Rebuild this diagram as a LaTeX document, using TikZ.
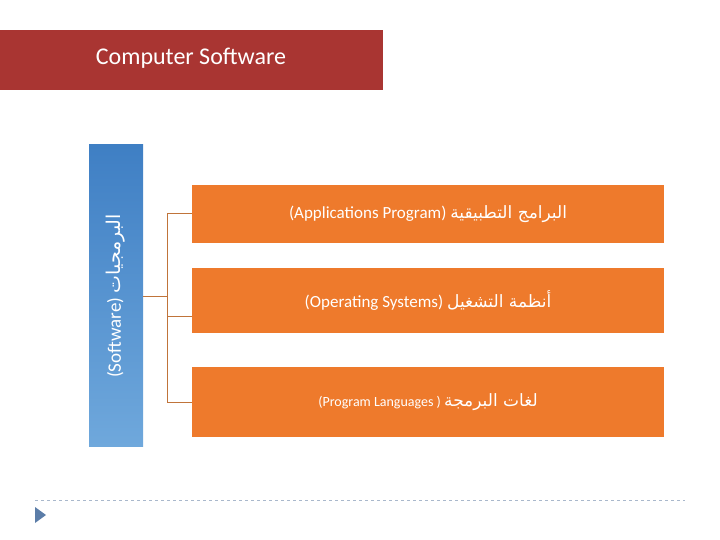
\documentclass[tikz,border=0pt]{standalone}
\usepackage{fontspec}
\setmainfont{Carlito}
\newfontfamily\arabicfont[Script=Arabic]{DejaVu Sans}
\TeXXeTstate=1
\usetikzlibrary{positioning}
\definecolor{titlered}{HTML}{A93532}
\definecolor{boxorange}{HTML}{EE7A2C}
\definecolor{linkbrown}{HTML}{C0743A}
\definecolor{bartop}{HTML}{3F7FC4}
\definecolor{barbottom}{HTML}{6FA8DC}
\definecolor{ruleblue}{HTML}{A9B8CC}
\definecolor{markblue}{HTML}{5B7DA8}
\tikzset{
  itembox/.style={fill=boxorange, minimum width=472pt, inner sep=0pt, text=white, font=\fontsize{17}{20}\selectfont},
  link/.style={linkbrown, line width=1pt}
}

\begin{document}
\begin{tikzpicture}[x=1pt,y=-1pt]
				\useasboundingbox (0,0) rectangle (720,540);
				
				%% Titel
				\fill [titlered] (0,30) rectangle (383,90);
				\node (title) [text=white, font=\fontsize{24}{28}\selectfont] at (191,58) {Computer Software};
				
				%% Balken links
				\shade [top color=bartop, bottom color=barbottom] (89,145) rectangle (143,446);
				\node (software) [rotate=90, text=white, font=\fontsize{19}{22}\selectfont] at (116,296)
				{(Software) {\arabicfont\beginR البرمجيات\endR}};
				\coordinate (barright) at (143,296);
				
				%% Kaesten
				\node (apps) [itembox, minimum height=58pt] at (428,214)
				{(Applications Program) {\arabicfont\beginR البرامج التطبيقية\endR}};
				\node (os) [itembox, minimum height=65pt] at (428,300.5)
				{(Operating Systems) {\arabicfont\beginR أنظمة التشغيل\endR}};
				\node (lang) [itembox, minimum height=70pt, font=\fontsize{14}{17}\selectfont] at (428,402)
				{(Program Languages ) {\arabicfont\fontsize{17}{20}\selectfont\beginR لغات البرمجة\endR}};
				
				%% Verbindungen
				\coordinate (fork) at (168,296);
				\draw [link] (barright) -- (fork);
				\draw [link] (apps.west) -- ++(-24,0) |- (lang.west);
				\draw [link] (os.west) ++(0,15.5) -- ++(-24,0);
				
				%% Fusslinie
				\draw [ruleblue, dashed] (35,500) -- (685,500);
				\fill [markblue] (35,507) -- (46,515) -- (35,523) -- cycle;
			\end{tikzpicture}
\end{document}
